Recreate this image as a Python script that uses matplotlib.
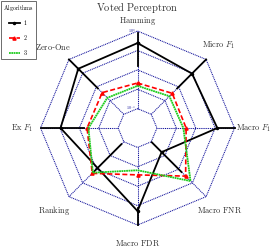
import numpy as np
import matplotlib.pyplot as plt

plt.rcParams['mathtext.fontset'] = 'cm'
plt.rcParams['font.family'] = 'serif'

# axes of the radar, clockwise from the top
metrics = [r'$\mathrm{Hamming}$', r'$\mathrm{Micro}\ F_1$', r'$\mathrm{Macro}\ F_1$',
           r'$\mathrm{Macro\ FNR}$', r'$\mathrm{Macro\ FDR}$', r'$\mathrm{Ranking}$',
           r'$\mathrm{Ex}\ F_1$', r'$\mathrm{Zero}$-$\mathrm{One}$']

# algorithm 1 (nan = no value)
alg1 = [0.24, 0.093, 0.13, 5.7e-4, 0.19, np.nan, 0.093, 0.21]
alg1_low = [0.016, 7.7e-3, 0.13, 1.1e-4, 0.13, 1.5e-4, 6.1e-3, 7.7e-3]
alg1_high = [0.79, 1.0, 1.0, 0.016, 1.0, 0.02, 1.0, 1.0]
# algorithm 2
alg2 = [2.1e-3, 3.4e-3, 3.2e-3, 3.2e-2, 2.6e-3, 2.0e-2, 4.0e-3, 3.8e-3]
# algorithm 3
alg3 = [1.5e-3, 2.1e-3, 2.3e-3, 7.3e-2, 1.5e-3, 1.8e-2, 3.4e-3, 1.6e-3]

rings = [1e-4, 1e-3, 1e-2, 1e-1, 1e0]

angles = np.arange(len(metrics)) * 2 * np.pi / len(metrics)


def to_xy(vals, idx):
    r = (np.log10(np.asarray(vals, dtype=float)) + 5) / 5
    th = angles[idx]
    return r * np.sin(th), r * np.cos(th)


fig = plt.figure(figsize=(2.74, 2.49), dpi=100)
ax = fig.add_axes([0, 0, 1, 1])
ax.set_xlim(-1.418, 1.407)
ax.set_ylim(-1.247, 1.320)
ax.axis('off')

grid_c = '#0e0e9a'
idx_all = np.arange(len(metrics))
closed = np.append(idx_all, 0)
for lv in rings:
    x, y = to_xy([lv] * len(closed), closed)
    ax.plot(x, y, color=grid_c, lw=0.75, ls=(0, (1, 0.8)), zorder=1)
for k in idx_all:
    x, y = to_xy([rings[0], rings[-1]], [k, k])
    ax.plot(x, y, color=grid_c, lw=0.75, ls=(0, (1, 0.8)), zorder=1)

# ring labels
for lv, txt in [(rings[0], r'$10^{-4}$'), (rings[-1], r'$10^{0}$')]:
    x, y = to_xy([lv], [0])
    ax.text(x[0] - 0.02, y[0], txt, color=grid_c, fontsize=3,
            ha='right', va='center', zorder=2)

# algorithm 1: ranges along the spokes and polygon through the known values
for k in idx_all:
    x, y = to_xy([alg1_low[k], alg1_high[k]], [k, k])
    ax.plot(x, y, color='black', lw=1.3, zorder=3)
a1 = np.array(alg1)
ok = idx_all[~np.isnan(a1)]
ok = np.append(ok, ok[0])
x, y = to_xy(a1[ok], ok)
l1, = ax.plot(x, y, color='black', lw=1.3, marker='o', ms=1.5, zorder=3, label=r'$1$')

x, y = to_xy(np.array(alg2)[closed], closed)
l2, = ax.plot(x, y, color='#ff0000', lw=1.2, ls=(0, (3, 1.5)), marker='^', ms=2.3,
              zorder=4, label=r'$2$')
x, y = to_xy(np.array(alg3)[closed], closed)
l3, = ax.plot(x, y, color='#1ccc1c', lw=1.3, ls=(0, (1, 0.3)), zorder=5, label=r'$3$')

# metric labels
label_pos = [(0.0, 1.10, 'center'), (0.665, 0.856, 'left'), (1.015, 0.0, 'left'),
             (0.613, -0.845, 'left'), (0.0, -1.186, 'center'), (-0.861, -0.845, 'center'),
             (-1.077, 0.0, 'right'), (-1.057, 0.835, 'left')]
for name, (lx, ly, ha) in zip(metrics, label_pos):
    ax.text(lx, ly, name, fontsize=6.0, color='#333333', ha=ha, va='center')

ax.text(0.0, 1.237, r'$\mathrm{Voted\ Perceptron}$', fontsize=7.5, color='#333333',
        ha='center', va='center')

leg = fig.legend(handles=[l1, l2, l3], title=r'$\mathrm{Algorithms}$',
                 loc='upper left', bbox_to_anchor=(0.004, 0.996), fontsize=4.3,
                 title_fontsize=4.3, handlelength=1.7, handletextpad=0.5,
                 borderpad=0.3, borderaxespad=0, labelspacing=0.95,
                 fancybox=False, framealpha=1)
leg.get_frame().set_edgecolor('#555555')
leg.get_frame().set_linewidth(0.6)

fig.savefig('out.png', dpi=100)
